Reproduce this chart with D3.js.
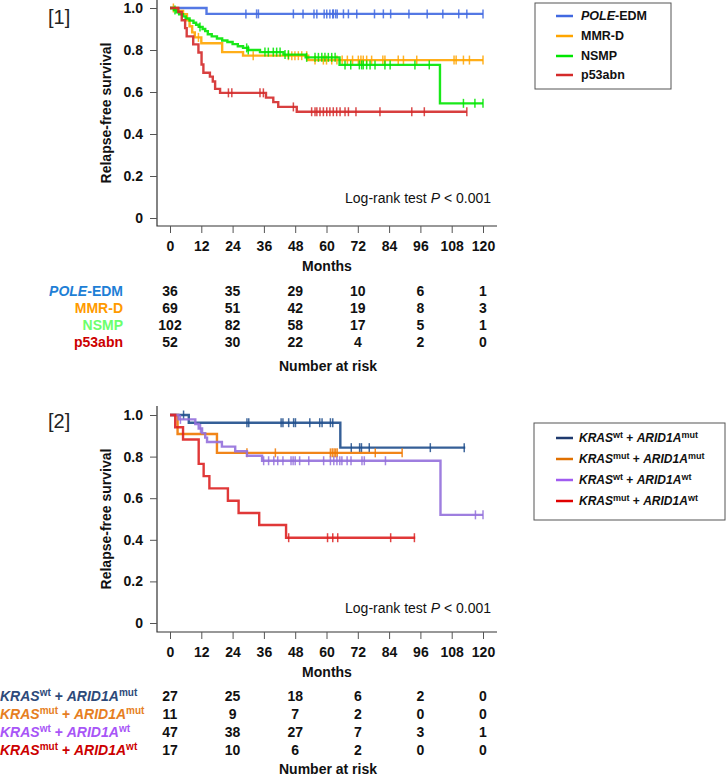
<!DOCTYPE html>
<html><head><meta charset="utf-8">
<script src="https://cdn.jsdelivr.net/npm/d3@7"></script>
<style>body{margin:0;background:#fff}svg{display:block}</style>
</head><body>
<svg id="c" width="726" height="777"></svg>
<script>
// ---------- shared ----------
const xTicks = [0,12,24,36,48,60,72,84,96,108,120];
const yTicks = [0,0.2,0.4,0.6,0.8,1.0];
const riskMonths = [0,24,48,72,96,120];

// ---------- panel 1 ----------
const p1Names = ["POLE-EDM","MMR-D","NSMP","p53abn"];
const p1Colors = ["#4169E1","#FFA500","#00E600","#D42A2A"];
const p1LabelColors = ["#1E7FD6","#FF9A00","#6CFF6C","#CC0000"];
const p1Risk = [[36,35,29,10,6,1],[69,51,42,19,8,3],[102,82,58,17,5,1],[52,30,22,4,2,0]];

const poleT = [0,14];
const poleS = [1,0.972];
const poleEnd = 120;
const poleC = [29.1,33.2,33.9,47.3,51,55.2,56.3,59.1,60.1,61.3,62.4,62.6,63.5,64.1,66.5,68.4,71.6,78.4,81.8,84.6,91.6,98.6,104.6,110.7,113.8,120];

const mmrT = [0,3,5,6.5,7.5,8.5,9.5,12,20,28,53];
const mmrS = [1,0.986,0.971,0.942,0.913,0.884,0.86,0.832,0.79,0.773,0.752];
const mmrEnd = 120;
const mmrC = [1.3,10.9,31.9,45.4,46.7,47.9,49.2,50.5,52.4,55.6,58.8,60,62,64,66,68,70,72.2,73.2,74.1,75.4,77.3,81.6,82.4,87.5,89.5,94.6,108.9,109.7,112.5,114.8,120];

const nsmpT = [0,1.5,2.5,3.5,5,6,7.5,9,10,11,12.5,13.5,14.5,16,18,20,22,24,26,28,30,34.5,43.5,52,65,103.5];
const nsmpS = [1,0.99,0.98,0.97,0.96,0.95,0.94,0.93,0.92,0.91,0.9,0.89,0.875,0.865,0.855,0.845,0.838,0.828,0.818,0.81,0.8,0.79,0.778,0.765,0.729,0.546];
const nsmpEnd = 120;
const nsmpC = [1.9,11.5,29.4,30,36.4,37.7,39.6,40.9,42.2,44.1,45.4,52.4,55.6,56.9,58.2,59.4,60.7,62,63.3,67.1,69.3,72.6,73.5,74.1,75.4,76.7,78.6,82.4,84.4,93.9,99.4,112.5,116.9,120];

const p53T = [0,3.2,4.5,5.8,6.4,8.9,10.9,12.1,12.8,15.3,16.4,17.3,19.2,36.8,39.6,41.5,48.6];
const p53S = [1,0.981,0.942,0.904,0.865,0.827,0.788,0.731,0.692,0.673,0.65,0.615,0.596,0.573,0.552,0.529,0.506];
const p53End = 113.8;
const p53C = [22.4,23.7,34.5,35.8,47.3,54.3,55.6,56.3,57.5,58.8,60.1,61.3,62.6,63.9,65.2,67.1,68.4,71.3,80.5,92.7,97.5,113.8];

// ---------- panel 2 ----------
const p2Sup1 = ["wt","mut","wt","mut"];
const p2Sup2 = ["mut","mut","wt","wt"];
const p2Colors = ["#1F4E8C","#F07800","#9370DB","#DD2222"];
const p2LegendColors = ["#1F3A6E","#E07000","#A05CF0","#E00000"];
const p2LabelColors = ["#2E4A7A","#E67E22","#A855F7","#CC0000"];
const p2Risk = [[27,25,18,6,2,0],[11,9,7,2,0,0],[47,38,27,7,3,1],[17,10,6,2,0,0]];

const wmT = [0,7.2,65.3];
const wmS = [1,0.963,0.843];
const wmEnd = 113.2;
const wmC = [5.2,29.5,30.2,42.6,43.3,45.5,47.4,48.1,53.6,57.4,58.3,61.5,62.4,69.5,72.7,73.4,76.4,99.8,112.8];

const mmT = [0,2.9,18];
const mmS = [1,0.909,0.818];
const mmEnd = 89;
const mmC = [29.5,40.4,61.5,62.2,62.9,63.5,64.1,78.7,89];

const wwT = [0,3.3,9.7,11,12.3,13.5,14.2,19.9,25,29.5,35.3,103.7];
const wwS = [1,0.979,0.957,0.935,0.913,0.891,0.87,0.848,0.826,0.804,0.78,0.52];
const wwEnd = 120;
const wwC = [4,11.7,35.9,37.8,39.8,41.3,43.3,46.4,47.2,48,49.7,53.2,58.9,61.5,62.8,64,65.1,65.9,67.9,69.4,73.6,74.5,82.6,117.1,120];

const mwT = [0,2,5,11,12.9,15.1,22.2,26.3,34.2,44.5];
const mwS = [1,0.941,0.882,0.765,0.706,0.647,0.588,0.529,0.471,0.41];
const mwEnd = 94;
const mwC = [45.5,60.4,62.4,64.3,84.6,93.7];

// ---------- drawing ----------
const FONT = "'Liberation Sans', Arial, Helvetica, sans-serif";
const svg = d3.select("#c").style("font-family", FONT);
const x = d3.scaleLinear().domain([0,120]).range([170,483]);

function survAt(ts, ss, t){ let v = ss[0]; for (let i=0;i<ts.length;i++){ if (ts[i] <= t) v = ss[i]; } return v; }

function drawPanel(cfg){
  const y = d3.scaleLinear().domain([0,1]).range(cfg.yRange);
  const g = svg.append("g");
  g.append("path").attr("d", `M157,${cfg.top}V${cfg.axisY}H497`).attr("fill","none").attr("stroke","#333").attr("stroke-width",1.2);
  const ya = g.append("g").attr("transform","translate(157,0)")
    .call(d3.axisLeft(y).tickValues(yTicks).tickSize(7).tickPadding(7).tickFormat(d => d===0 ? "0" : d3.format(".1f")(d)));
  const xa = g.append("g").attr("transform",`translate(0,${cfg.axisY})`)
    .call(d3.axisBottom(x).tickValues(xTicks).tickSize(7).tickPadding(8));
  [ya, xa].forEach(a => {
    a.select(".domain").remove();
    a.selectAll("line").attr("stroke","#555").attr("stroke-width",1);
    a.selectAll("text").attr("font-size",14).attr("font-weight","bold").attr("font-family",FONT).attr("fill","#111");
  });
  const yc = (cfg.yRange[0]+cfg.yRange[1])/2;
  g.append("text").attr("transform",`translate(106,${yc}) rotate(-90)`).attr("text-anchor","middle").attr("dy","0.35em")
    .attr("font-size",14).attr("font-weight","bold").attr("fill","#111").text("Relapse-free survival");
  g.append("text").attr("x",327).attr("y",cfg.axisY+40).attr("dy","0.35em").attr("text-anchor","middle")
    .attr("font-size",14).attr("font-weight","bold").attr("fill","#111").text("Months");
  g.append("text").attr("x",48).attr("y",cfg.tagY).attr("dy","0.35em").attr("font-size",20).attr("fill","#222").text(cfg.tag);
  const lr = g.append("text").attr("x",491).attr("y",cfg.lrY).attr("dy","0.35em").attr("text-anchor","end").attr("font-size",14).attr("fill","#111");
  lr.append("tspan").text("Log-rank test ");
  lr.append("tspan").attr("font-style","italic").text("P");
  lr.append("tspan").text(" < 0.001");
  const line = d3.line().x(d => x(d[0])).y(d => y(d[1])).curve(d3.curveStepAfter);
  cfg.series.forEach((s, i) => {
    const pts = s.t.map((t,k) => [t, s.s[k]]);
    pts.push([s.end, s.s[s.s.length-1]]);
    g.append("path").attr("d", line(pts)).attr("fill","none").attr("stroke", cfg.colors[i]).attr("stroke-width",2.4).attr("stroke-opacity",0.9);
    g.selectAll(null).data(s.c).enter().append("line")
      .attr("x1", d => x(d)).attr("x2", d => x(d))
      .attr("y1", d => y(survAt(s.t, s.s, d)) - 4.5).attr("y2", d => y(survAt(s.t, s.s, d)) + 4.5)
      .attr("stroke", cfg.colors[i]).attr("stroke-width",1.5).attr("stroke-opacity",0.85);
  });
  cfg.risk.forEach((row, i) => {
    const ry = cfg.riskY[i];
    g.selectAll(null).data(row).enter().append("text")
      .attr("x", (d,k) => x(riskMonths[k])).attr("y", ry).attr("dy","0.35em").attr("text-anchor","middle")
      .attr("font-size",14).attr("font-weight","bold").attr("fill","#111").text(d => d);
    cfg.label(g, i, ry);
  });
  g.append("text").attr("x",328).attr("y",cfg.narY).attr("dy","0.35em").attr("text-anchor","middle")
    .attr("font-size",14).attr("font-weight","bold").attr("fill","#111").text("Number at risk");
  const L = cfg.legend;
  g.append("rect").attr("x",L.x).attr("y",L.y).attr("width",L.w).attr("height",L.h).attr("fill","#fff").attr("stroke","#555").attr("stroke-width",1);
  L.rows.forEach((ly, i) => {
    g.append("line").attr("x1",556).attr("x2",573).attr("y1",ly).attr("y2",ly).attr("stroke",L.colors[i]).attr("stroke-width",2.5);
    L.text(g, i, ly);
  });
}

function poleText(sel, i){
  if (p1Names[i] === "POLE-EDM"){
    sel.append("tspan").attr("font-style","italic").text("POLE");
    sel.append("tspan").text("-EDM");
  } else sel.text(p1Names[i]);
}
function krasText(sel, i, fs){
  const sup = Math.round(fs*0.72);
  const sh = fs*0.38;
  sel.append("tspan").attr("font-style","italic").text("KRAS");
  sel.append("tspan").attr("font-size",sup).attr("dy",-sh).text(p2Sup1[i]);
  sel.append("tspan").attr("dy",sh).text(" + ");
  sel.append("tspan").attr("font-style","italic").text("ARID1A");
  sel.append("tspan").attr("font-size",sup).attr("dy",-sh).text(p2Sup2[i]);
}

drawPanel({
  tag:"[1]", tagY:17, top:0, yRange:[218,8], axisY:226, lrY:198,
  colors:p1Colors,
  series:[{t:poleT,s:poleS,end:poleEnd,c:poleC},{t:mmrT,s:mmrS,end:mmrEnd,c:mmrC},{t:nsmpT,s:nsmpS,end:nsmpEnd,c:nsmpC},{t:p53T,s:p53S,end:p53End,c:p53C}],
  risk:p1Risk, riskY:[291.5,308.5,325.5,342.5], narY:366,
  label:(g,i,ry) => { const t = g.append("text").attr("x",123).attr("y",ry).attr("dy","0.35em").attr("text-anchor","end")
      .attr("font-size",14).attr("font-weight","bold").attr("fill",p1LabelColors[i]); poleText(t,i); },
  legend:{x:535,y:3,w:136,h:86,rows:[16,36,56,75],colors:p1Colors,
    text:(g,i,ly) => { const t = g.append("text").attr("x",581).attr("y",ly).attr("dy","0.35em").attr("font-size",12.5).attr("font-weight","bold").attr("fill","#111"); poleText(t,i); }}
});

drawPanel({
  tag:"[2]", tagY:421, top:406, yRange:[623,415], axisY:632, lrY:608,
  colors:p2Colors,
  series:[{t:wmT,s:wmS,end:wmEnd,c:wmC},{t:mmT,s:mmS,end:mmEnd,c:mmC},{t:wwT,s:wwS,end:wwEnd,c:wwC},{t:mwT,s:mwS,end:mwEnd,c:mwC}],
  risk:p2Risk, riskY:[696.5,714.5,732.5,750.5], narY:769,
  label:(g,i,ry) => { const t = g.append("text").attr("x",0).attr("y",ry).attr("dy","0.35em")
      .attr("font-size",14).attr("font-weight","bold").attr("fill",p2LabelColors[i]); krasText(t,i,14); },
  legend:{x:534,y:423,w:191,h:97,rows:[438,459,480,501],colors:p2LegendColors,
    text:(g,i,ly) => { const t = g.append("text").attr("x",579).attr("y",ly).attr("dy","0.35em").attr("font-size",12).attr("font-weight","bold").attr("fill","#111"); krasText(t,i,12); }}
});
</script>
</body></html>
